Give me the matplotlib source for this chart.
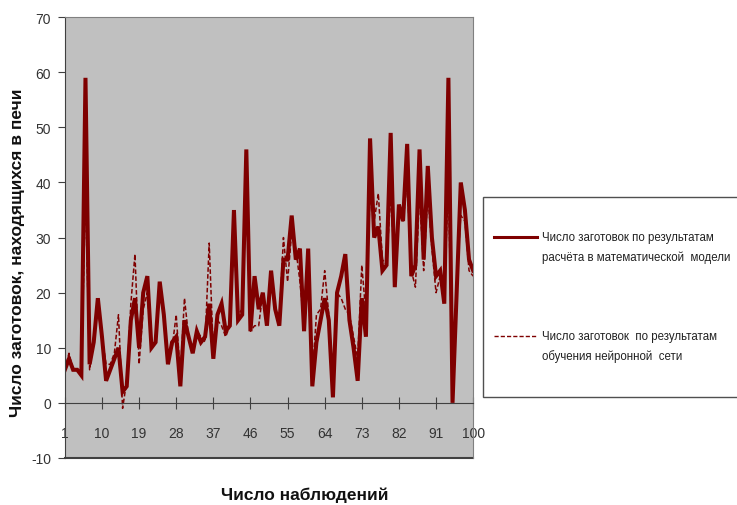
import matplotlib
matplotlib.use("Agg")
import matplotlib.pyplot as plt
from matplotlib.lines import Line2D
from matplotlib.patches import Rectangle
import numpy as np

plt.rcParams["axes.unicode_minus"] = False

# observation numbers 1..100
obs = np.arange(1, 101)

# number of billets in the furnace, math model
model = [6, 8, 6, 6, 5, 59, 7, 11, 19, 12,
         4, 6, 8, 10, 2, 3, 15, 19, 10, 20,
         23, 10, 11, 22, 16, 7, 11, 12, 3, 15,
         12, 9, 13, 11, 12, 18, 8, 16, 18, 13,
         14, 35, 15, 16, 46, 13, 23, 17, 20, 14,
         24, 17, 14, 26, 26, 34, 26, 28, 13, 28,
         3, 11, 15, 19, 15, 1, 20, 23, 27, 15,
         10, 4, 19, 12, 48, 30, 32, 24, 25, 49,
         21, 36, 33, 47, 23, 25, 46, 26, 43, 30,
         23, 24, 18, 59, 0, 20, 40, 35, 26, 24]

# number of billets, neural network output
network = [6, 9, 6, 6, 5, 38, 6, 12, 17, 12,
           7, 7, 9, 16, -1, 4, 18, 27, 7, 17,
           20, 10, 11, 20, 16, 8, 10, 16, 5, 19,
           12, 10, 13, 12, 11, 29, 9, 15, 14, 12,
           14, 30, 16, 17, 38, 13, 14, 14, 20, 15,
           22, 17, 15, 30, 22, 31, 28, 22, 14, 22,
           5, 16, 17, 24, 16, 3, 20, 19, 17, 16,
           12, 8, 25, 16, 38, 33, 38, 26, 25, 38,
           24, 35, 33, 40, 24, 21, 38, 24, 38, 28,
           20, 23, 20, 40, 2, 22, 34, 33, 24, 23]

xticks = list(range(1, 101, 9))
yticks = list(range(-10, 71, 10))

font = ["Liberation Sans", "DejaVu Sans"]
red = "#7f0000"

fig = plt.figure(figsize=(7.37, 5.06), dpi=100)
ax = fig.add_axes([0.088, 0.093, 0.554, 0.871])
ax.set_facecolor("#c0c0c0")

ax.plot(obs, model, color=red, lw=2.9, solid_joinstyle="miter")
ax.plot(obs, network, color=red, lw=1.1, ls=(0, (3, 1.5)))

ax.set_xlim(1, 100)
ax.set_ylim(-10, 70)

# category axis crosses at zero
ax.spines["bottom"].set_position(("data", 0))
ax.spines["bottom"].set_color("#404040")
ax.spines["left"].set_color("#404040")
ax.spines["top"].set_color("#808080")
ax.spines["right"].set_color("#808080")
ax.axhline(-10, color="#404040", lw=1.5, clip_on=False)

ax.set_xticks(xticks)
ax.set_yticks(yticks)
ax.tick_params(axis="x", direction="inout", length=9, pad=12,
               colors="#404040", labelcolor="#333333", labelsize=10)
ax.tick_params(axis="y", direction="out", length=5, pad=5,
               colors="#404040", labelcolor="#333333", labelsize=10)
for lab in ax.get_xticklabels() + ax.get_yticklabels():
    lab.set_family(font)

fig.text(0.024, 0.50, "Число заготовок, находящихся в печи", rotation=90,
         ha="center", va="center", fontsize=12.5, fontweight="bold",
         family=font, color="#111111")
fig.text(0.414, 0.021, "Число наблюдений", ha="center", va="center",
         fontsize=12.5, fontweight="bold", family=font, color="#111111")

# legend box on the right
fig.patches.append(Rectangle((483 / 737, 1 - 398 / 506), 0.40, 200 / 506,
                             transform=fig.transFigure, facecolor="white",
                             edgecolor="#505050", lw=1.0))
fig.lines.append(Line2D([494 / 737, 537 / 737], [1 - 238 / 506] * 2,
                        transform=fig.transFigure, color=red, lw=2.2))
fig.lines.append(Line2D([494 / 737, 537 / 737], [1 - 337 / 506] * 2,
                        transform=fig.transFigure, color=red, lw=1.0,
                        ls=(0, (3, 1.5))))
fig.text(542 / 737, 1 - 248 / 506,
         "Число заготовок по результатам\nрасчёта в математической  модели",
         ha="left", va="center", fontsize=8.3, family=font,
         color="#222222", linespacing=1.7)
fig.text(542 / 737, 1 - 347 / 506,
         "Число заготовок  по результатам\nобучения нейронной  сети",
         ha="left", va="center", fontsize=8.3, family=font,
         color="#222222", linespacing=1.7)

fig.savefig("out.png", dpi=100)
